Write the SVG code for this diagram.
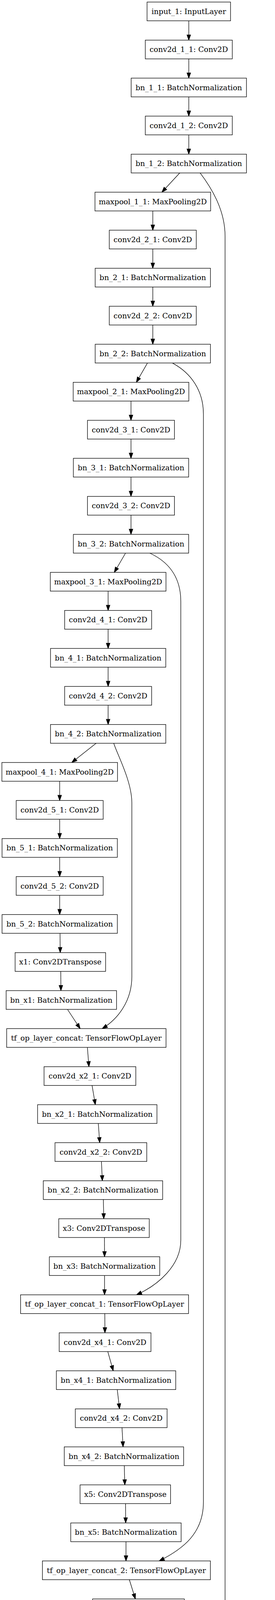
<svg xmlns="http://www.w3.org/2000/svg" width="705" height="5219" viewBox="0 0 705 5219">
<style>
.n rect{fill:#fff;stroke:#000;stroke-width:1.33}
.n text{font-family:"DejaVu Serif",serif;font-size:19px;text-anchor:middle;fill:#000}
.e path{fill:none;stroke:#000;stroke-width:1.33;marker-end:url(#arr)}
</style>
<defs>
<marker id="arr" markerUnits="userSpaceOnUse" viewBox="-2 -7 18 14" markerWidth="18" markerHeight="14" refX="13.3" refY="0" orient="auto">
<path d="M0,-4.67L13.3,0L0,4.67Z" fill="#000" stroke="#000" stroke-width="1.33"/>
</marker>
</defs>
<rect x="0" y="0" width="705" height="5219" fill="#fff"/>
<g id="connectors" class="e">
<path d="M484,53.3L484,102.7"/>
<path d="M484,150.7L484,200"/>
<path d="M484,248L484,297.3"/>
<path d="M484,345.3L484,394.7"/>
<path d="M460.8,442.7L415,492"/>
<path d="M391.7,540L391.7,589.3"/>
<path d="M391.7,637.3L391.7,686.7"/>
<path d="M391.7,734.7L391.7,784"/>
<path d="M391.7,832L391.7,881.3"/>
<path d="M378,929.3L349.6,978.7"/>
<path d="M335.8,1026.7L335.8,1076"/>
<path d="M335.8,1124L335.8,1173.3"/>
<path d="M335.8,1221.3L335.8,1270.7"/>
<path d="M335.8,1318.7L335.8,1368"/>
<path d="M321.8,1416L293,1465.3"/>
<path d="M277.2,1513.3L277.2,1562.7"/>
<path d="M277.2,1610.7L277.2,1660"/>
<path d="M277.2,1708L277.2,1757.3"/>
<path d="M277.2,1805.3L277.2,1854.7"/>
<path d="M246.4,1902.7L184,1952"/>
<path d="M153,2000L153,2049.3"/>
<path d="M153,2097.3L153,2146.7"/>
<path d="M153,2194.7L153,2244"/>
<path d="M153,2292L153,2341.3"/>
<path d="M153.9,2389.3L154.4,2438.7"/>
<path d="M155.7,2486.7L156.2,2536"/>
<path d="M173,2584L205.5,2633.3"/>
<path d="M224,2681.3L228,2730.7"/>
<path d="M236,2778.7L244.4,2828"/>
<path d="M252,2876L255.6,2925.3"/>
<path d="M260,2973.3L262.4,3022.7"/>
<path d="M265,3070.7L266,3120"/>
<path d="M267.7,3168L268,3217.3"/>
<path d="M268,3265.3L268,3314.7"/>
<path d="M268.6,3362.7L269,3412"/>
<path d="M276.3,3460L290.3,3509.3"/>
<path d="M300.6,3557.3L306.5,3606.7"/>
<path d="M312.8,3654.7L315.5,3704"/>
<path d="M318.6,3752L320,3801.3"/>
<path d="M321.8,3849.3L322.2,3898.7"/>
<path d="M323,3946.7L323,3996"/>
<path d="M331.6,4044L347,4093.3"/>
<path d="M358.6,4141.3L365.4,4190.7"/>
<path d="M373,4238.7L376.2,4288"/>
<path d="M380.2,4336L381.6,4385.3"/>
<path d="M385.2,4433.3L388,4482.7"/>
<path d="M392.4,4530.7L393.7,4580"/>
<path d="M417.6,4628L462,4677.3"/>
<path d="M484,4725.3L484,4774.7"/>
<path d="M484,4822.7L484,4872"/>
<path d="M484,4920L484,4969.3"/>
<path d="M484,5017.3L484,5066.7"/>
<path d="M484,5114.7L484,5164"/>
<path d="M513,442.7C545,485 577,540 577,605L577,4515C577,4590 545,4640 512,4677.3"/>
<path d="M442,929.3C490,955 521.5,1000 521.5,1060L521.5,3845C521.5,3925 470,3965 408,3996"/>
<path d="M384,1416C425,1435 463.5,1470 463.5,1540L463.5,3175C463.5,3240 405,3290 350,3314.7"/>
<path d="M291.6,1902.7C300,1930 338,2000 338,2055L338,2500C338,2565 300,2610 262,2633.3"/>
</g>
<g id="input_1" class="n"><rect x="377" y="5.3" width="214" height="48"/><text x="484" y="35.8">input_1: InputLayer</text></g>
<g id="conv2d_1_1" class="n"><rect x="372.5" y="102.7" width="223" height="48"/><text x="484" y="133.2">conv2d_1_1: Conv2D</text></g>
<g id="bn_1_1" class="n"><rect x="336.3" y="200" width="295.5" height="48"/><text x="484" y="230.5">bn_1_1: BatchNormalization</text></g>
<g id="conv2d_1_2" class="n"><rect x="372.5" y="297.3" width="223" height="48"/><text x="484" y="327.8">conv2d_1_2: Conv2D</text></g>
<g id="bn_1_2" class="n"><rect x="336.3" y="394.7" width="295.5" height="48"/><text x="484" y="425.2">bn_1_2: BatchNormalization</text></g>
<g id="maxpool_1_1" class="n"><rect x="243.5" y="492" width="296.5" height="48"/><text x="391.7" y="522.5">maxpool_1_1: MaxPooling2D</text></g>
<g id="conv2d_2_1" class="n"><rect x="280.2" y="589.3" width="223" height="48"/><text x="391.7" y="619.8">conv2d_2_1: Conv2D</text></g>
<g id="bn_2_1" class="n"><rect x="244" y="686.7" width="295.5" height="48"/><text x="391.7" y="717.2">bn_2_1: BatchNormalization</text></g>
<g id="conv2d_2_2" class="n"><rect x="280.2" y="784" width="223" height="48"/><text x="391.7" y="814.5">conv2d_2_2: Conv2D</text></g>
<g id="bn_2_2" class="n"><rect x="244" y="881.3" width="295.5" height="48"/><text x="391.7" y="911.8">bn_2_2: BatchNormalization</text></g>
<g id="maxpool_2_1" class="n"><rect x="187.6" y="978.7" width="296.5" height="48"/><text x="335.8" y="1009.2">maxpool_2_1: MaxPooling2D</text></g>
<g id="conv2d_3_1" class="n"><rect x="224.3" y="1076" width="223" height="48"/><text x="335.8" y="1106.5">conv2d_3_1: Conv2D</text></g>
<g id="bn_3_1" class="n"><rect x="188.1" y="1173.3" width="295.5" height="48"/><text x="335.8" y="1203.8">bn_3_1: BatchNormalization</text></g>
<g id="conv2d_3_2" class="n"><rect x="224.3" y="1270.7" width="223" height="48"/><text x="335.8" y="1301.2">conv2d_3_2: Conv2D</text></g>
<g id="bn_3_2" class="n"><rect x="188.1" y="1368" width="295.5" height="48"/><text x="335.8" y="1398.5">bn_3_2: BatchNormalization</text></g>
<g id="maxpool_3_1" class="n"><rect x="129" y="1465.3" width="296.5" height="48"/><text x="277.2" y="1495.8">maxpool_3_1: MaxPooling2D</text></g>
<g id="conv2d_4_1" class="n"><rect x="165.7" y="1562.7" width="223" height="48"/><text x="277.2" y="1593.2">conv2d_4_1: Conv2D</text></g>
<g id="bn_4_1" class="n"><rect x="129.5" y="1660" width="295.5" height="48"/><text x="277.2" y="1690.5">bn_4_1: BatchNormalization</text></g>
<g id="conv2d_4_2" class="n"><rect x="165.7" y="1757.3" width="223" height="48"/><text x="277.2" y="1787.8">conv2d_4_2: Conv2D</text></g>
<g id="bn_4_2" class="n"><rect x="129.5" y="1854.7" width="295.5" height="48"/><text x="277.2" y="1885.2">bn_4_2: BatchNormalization</text></g>
<g id="maxpool_4_1" class="n"><rect x="4.8" y="1952" width="296.5" height="48"/><text x="153" y="1982.5">maxpool_4_1: MaxPooling2D</text></g>
<g id="conv2d_5_1" class="n"><rect x="41.5" y="2049.3" width="223" height="48"/><text x="153" y="2079.8">conv2d_5_1: Conv2D</text></g>
<g id="bn_5_1" class="n"><rect x="5.3" y="2146.7" width="295.5" height="48"/><text x="153" y="2177.2">bn_5_1: BatchNormalization</text></g>
<g id="conv2d_5_2" class="n"><rect x="41.5" y="2244" width="223" height="48"/><text x="153" y="2274.5">conv2d_5_2: Conv2D</text></g>
<g id="bn_5_2" class="n"><rect x="5.3" y="2341.3" width="295.5" height="48"/><text x="153" y="2371.8">bn_5_2: BatchNormalization</text></g>
<g id="x1" class="n"><rect x="38.7" y="2438.7" width="232" height="48"/><text x="154.7" y="2469.2">x1: Conv2DTranspose</text></g>
<g id="bn_x1" class="n"><rect x="15.7" y="2536" width="283" height="48"/><text x="157.2" y="2566.5">bn_x1: BatchNormalization</text></g>
<g id="tf_op_layer_concat" class="n"><rect x="17.1" y="2633.3" width="408.5" height="48"/><text x="221.3" y="2663.8">tf_op_layer_concat: TensorFlowOpLayer</text></g>
<g id="conv2d_x2_1" class="n"><rect x="112.9" y="2730.7" width="235.3" height="48"/><text x="230.5" y="2761.2">conv2d_x2_1: Conv2D</text></g>
<g id="bn_x2_1" class="n"><rect x="96.4" y="2828" width="306" height="48"/><text x="249.4" y="2858.5">bn_x2_1: BatchNormalization</text></g>
<g id="conv2d_x2_2" class="n"><rect x="141" y="2925.3" width="235.3" height="48"/><text x="258.6" y="2955.8">conv2d_x2_2: Conv2D</text></g>
<g id="bn_x2_2" class="n"><rect x="111" y="3022.7" width="306" height="48"/><text x="264" y="3053.2">bn_x2_2: BatchNormalization</text></g>
<g id="x3" class="n"><rect x="150.6" y="3120" width="232" height="48"/><text x="266.6" y="3150.5">x3: Conv2DTranspose</text></g>
<g id="bn_x3" class="n"><rect x="126.5" y="3217.3" width="283" height="48"/><text x="268" y="3247.8">bn_x3: BatchNormalization</text></g>
<g id="tf_op_layer_concat_1" class="n"><rect x="52.7" y="3314.7" width="430.7" height="48"/><text x="268" y="3345.2">tf_op_layer_concat_1: TensorFlowOpLayer</text></g>
<g id="conv2d_x4_1" class="n"><rect x="151.7" y="3412" width="235.3" height="48"/><text x="269.3" y="3442.5">conv2d_x4_1: Conv2D</text></g>
<g id="bn_x4_1" class="n"><rect x="144.5" y="3509.3" width="306" height="48"/><text x="297.5" y="3539.8">bn_x4_1: BatchNormalization</text></g>
<g id="conv2d_x4_2" class="n"><rect x="193.1" y="3606.7" width="235.3" height="48"/><text x="310.7" y="3637.2">conv2d_x4_2: Conv2D</text></g>
<g id="bn_x4_2" class="n"><rect x="164.7" y="3704" width="306" height="48"/><text x="317.7" y="3734.5">bn_x4_2: BatchNormalization</text></g>
<g id="x5" class="n"><rect x="205.3" y="3801.3" width="232" height="48"/><text x="321.3" y="3831.8">x5: Conv2DTranspose</text></g>
<g id="bn_x5" class="n"><rect x="181.4" y="3898.7" width="283" height="48"/><text x="322.9" y="3929.2">bn_x5: BatchNormalization</text></g>
<g id="tf_op_layer_concat_2" class="n"><rect x="108.7" y="3996" width="430.7" height="48"/><text x="324" y="4026.5">tf_op_layer_concat_2: TensorFlowOpLayer</text></g>
<g id="conv2d_x6_1" class="n"><rect x="237.3" y="4093.3" width="235.3" height="48"/><text x="354.9" y="4123.8">conv2d_x6_1: Conv2D</text></g>
<g id="bn_x6_1" class="n"><rect x="217.8" y="4190.7" width="306" height="48"/><text x="370.8" y="4221.2">bn_x6_1: BatchNormalization</text></g>
<g id="conv2d_x6_2" class="n"><rect x="261" y="4288" width="235.3" height="48"/><text x="378.6" y="4318.5">conv2d_x6_2: Conv2D</text></g>
<g id="bn_x6_2" class="n"><rect x="229.8" y="4385.3" width="306" height="48"/><text x="382.8" y="4415.8">bn_x6_2: BatchNormalization</text></g>
<g id="x7" class="n"><rect x="274.8" y="4482.7" width="232" height="48"/><text x="390.8" y="4513.2">x7: Conv2DTranspose</text></g>
<g id="bn_x7" class="n"><rect x="253.3" y="4580" width="283" height="48"/><text x="394.8" y="4610.5">bn_x7: BatchNormalization</text></g>
<g id="tf_op_layer_concat_3" class="n"><rect x="269.1" y="4677.3" width="430.7" height="48"/><text x="484.4" y="4707.8">tf_op_layer_concat_3: TensorFlowOpLayer</text></g>
<g id="conv2d_x8_1" class="n"><rect x="366.4" y="4774.7" width="235.3" height="48"/><text x="484" y="4805.2">conv2d_x8_1: Conv2D</text></g>
<g id="bn_x8_1" class="n"><rect x="331" y="4872" width="306" height="48"/><text x="484" y="4902.5">bn_x8_1: BatchNormalization</text></g>
<g id="conv2d_x8_2" class="n"><rect x="366.4" y="4969.3" width="235.3" height="48"/><text x="484" y="4999.8">conv2d_x8_2: Conv2D</text></g>
<g id="bn_x8_2" class="n"><rect x="331" y="5066.7" width="306" height="48"/><text x="484" y="5097.2">bn_x8_2: BatchNormalization</text></g>
<g id="output" class="n"><rect x="397" y="5164" width="174" height="48"/><text x="484" y="5194.5">output: Conv2D</text></g>
</svg>
